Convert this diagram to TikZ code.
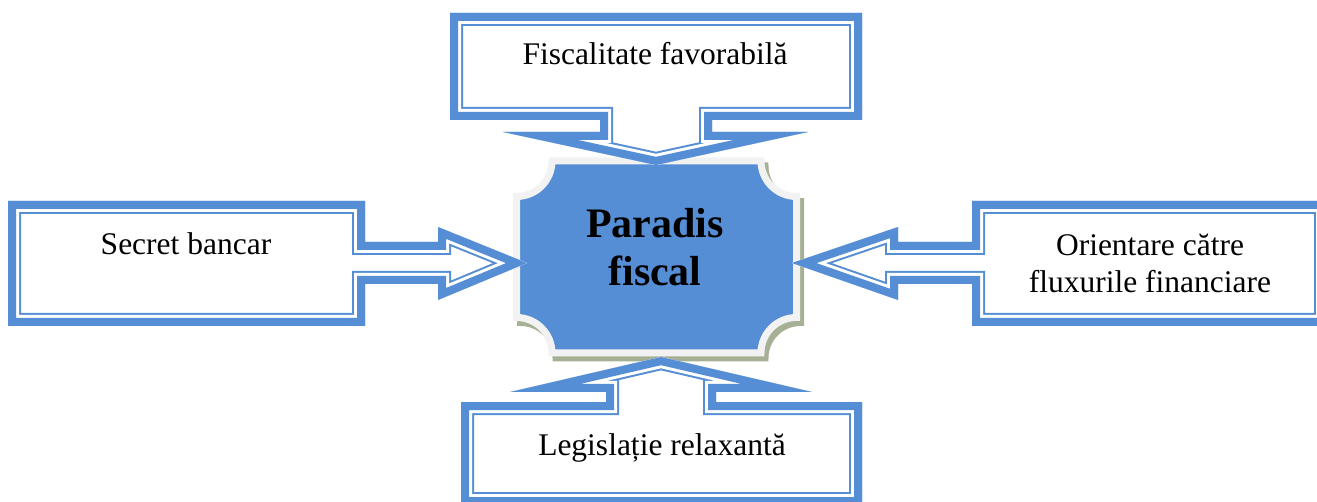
\documentclass[tikz,border=0pt]{standalone}
\usepackage{fontspec}
\setmainfont{Liberation Serif}
\definecolor{cb}{RGB}{85,142,213}
\definecolor{plgray}{RGB}{242,242,242}
\definecolor{shad}{RGB}{166,176,148}
\newcommand{\mycallout}[1]{%
  \fill[white] #1;
  \begin{scope}
    \clip #1;
    \draw[cb, line width=26pt] #1;
    \draw[white, line width=22pt] #1;
    \draw[cb, line width=16pt] #1;
  \end{scope}}
\newcommand{\plaqueshape}[6]{%
  \path[#1] ({#2+#6},#3) -- ({#4-#6},#3)
    .. controls ({#4-#6},{#3+0.5523*#6}) and ({#4-0.5523*#6},{#3+#6}) .. (#4,{#3+#6})
    -- (#4,{#5-#6})
    .. controls ({#4-0.5523*#6},{#5-#6}) and ({#4-#6},{#5-0.5523*#6}) .. ({#4-#6},#5)
    -- ({#2+#6},#5)
    .. controls ({#2+#6},{#5-0.5523*#6}) and ({#2+0.5523*#6},{#5-#6}) .. (#2,{#5-#6})
    -- (#2,{#3+#6})
    .. controls ({#2+0.5523*#6},{#3+#6}) and ({#2+#6},{#3+0.5523*#6}) .. cycle;}
\begin{document}
\begin{tikzpicture}[x=1pt,y=-1pt, line join=miter, miter limit=30,
  lbl/.style={font=\fontsize{31.5}{37}\selectfont, inner sep=0pt, anchor=base}]
\useasboundingbox (0,0) rectangle (1317,502);
\clip (0,0) rectangle (1317,502);
% central plaque with shadow
\plaqueshape{fill=shad, draw=shad, line width=7pt}{520.5}{166}{800.5}{358}{35.5}
\plaqueshape{fill=cb, draw=plgray, line width=7pt}{516.5}{161}{796.5}{353}{35.5}
% callouts
\mycallout{(450,13) -- (862,13) -- (862,120) -- (712,120) -- (712,132) -- (808,132) -- (656,165) -- (503,132) -- (600,132) -- (600,120) -- (450,120) -- cycle}
\mycallout{(8,201) -- (365,201) -- (365,242) -- (438,242) -- (438,227) -- (527,263) -- (438,300) -- (438,284) -- (365,284) -- (365,326) -- (8,326) -- cycle}
\mycallout{(1327,201) -- (972,201) -- (972,242) -- (898,242) -- (898,227) -- (792,263) -- (898,300) -- (898,284) -- (972,284) -- (972,326) -- (1327,326) -- cycle}
\mycallout{(461,505) -- (461,402) -- (606,402) -- (606,392) -- (510,392) -- (661,357) -- (812,392) -- (716,392) -- (716,402) -- (862,402) -- (862,505) -- cycle}
% texts
\node[lbl] (fisc) at (655,65) {Fiscalitate favorabilă};
\node[lbl] (secret) at (186,255) {Secret bancar};
\node[lbl] (orient) at (1150,293) {\begin{tabular}[b]{@{}c@{}}Orientare către\\fluxurile financiare\end{tabular}};
\node[lbl] (legis) at (662,455) {Legislație relaxantă};
\node[lbl, font=\bfseries\fontsize{42}{48}\selectfont] (paradis) at (655,286) {\begin{tabular}[b]{@{}c@{}}Paradis\\fiscal\end{tabular}};
\end{tikzpicture}
\end{document}
